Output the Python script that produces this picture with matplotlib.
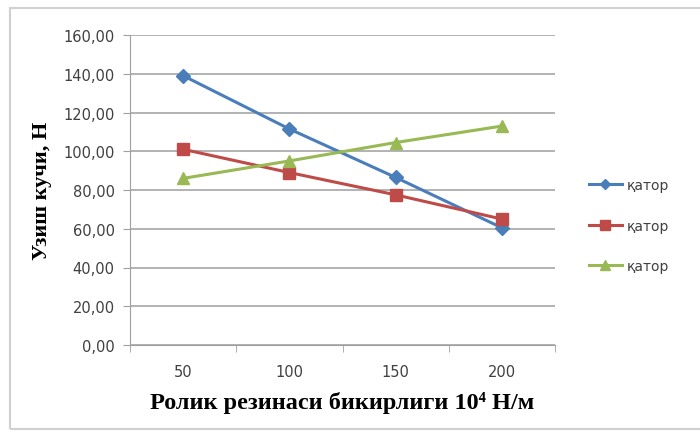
import matplotlib.pyplot as plt
from matplotlib.patches import Rectangle

categories = ['50', '100', '150', '200']
series_names = ['қатор', 'қатор', 'қатор']
blue_vals = [139.0, 111.5, 86.5, 60.5]
red_vals = [101.0, 89.0, 77.5, 65.0]
green_vals = [86.0, 95.0, 104.5, 113.0]
y_ticks = [0, 20, 40, 60, 80, 100, 120, 140, 160]

fig = plt.figure(figsize=(7, 4.39), dpi=100)
fig.patches.append(Rectangle((10 / 700, 9 / 439), 700, 421 / 439, transform=fig.transFigure,
                             fill=False, edgecolor='#d0d0d0', linewidth=1.5))

ax = fig.add_axes([130 / 700, 93 / 439, 425 / 700, 310 / 439])
x = list(range(len(categories)))

ax.plot(x, blue_vals, color='#4a7ebb', marker='D', markersize=7, linewidth=2.2, label=series_names[0])
ax.plot(x, red_vals, color='#be4b48', marker='s', markersize=9, linewidth=2.2, label=series_names[1])
ax.plot(x, green_vals, color='#98b954', marker='^', markersize=9, linewidth=2.2, label=series_names[2])

ax.set_xlim(-0.5, 3.5)
ax.set_ylim(0, 160)
ax.set_yticks(y_ticks)
ax.set_yticklabels([f'{v:.2f}'.replace('.', ',') for v in y_ticks], fontsize=10.5, color='#404040')
ax.set_xticks(x)
ax.set_xticklabels(categories, fontsize=10.5, color='#404040')
ax.set_xticks([-0.5, 0.5, 1.5, 2.5, 3.5], minor=True)
ax.tick_params(axis='x', which='major', length=0, pad=14)
ax.tick_params(axis='x', which='minor', length=5, color='#a0a0a0')
ax.tick_params(axis='y', length=5, color='#a0a0a0', pad=6)

ax.grid(axis='y', color='#a6a6a6', linewidth=1.2)
ax.set_axisbelow(True)
for side in ['top', 'right']:
    ax.spines[side].set_visible(False)
ax.spines['left'].set_color('#a0a0a0')
ax.spines['bottom'].set_color('#a0a0a0')

ax.set_ylabel('Узиш кучи, Н', fontsize=16, fontweight='bold', family='Liberation Serif', labelpad=8)
ax.set_xlabel('Ролик резинаси бикирлиги 10⁴ Н/м', fontsize=17.5, fontweight='bold',
              family=['Liberation Serif', 'DejaVu Serif'], labelpad=8)

ax.legend(loc='center left', bbox_to_anchor=(1.05, 0.385), frameon=False, fontsize=10,
          labelspacing=1.9, handlelength=2.4, handletextpad=0.3, labelcolor='#404040',
          markerscale=0.8)

fig.savefig('out.png', dpi=100)
